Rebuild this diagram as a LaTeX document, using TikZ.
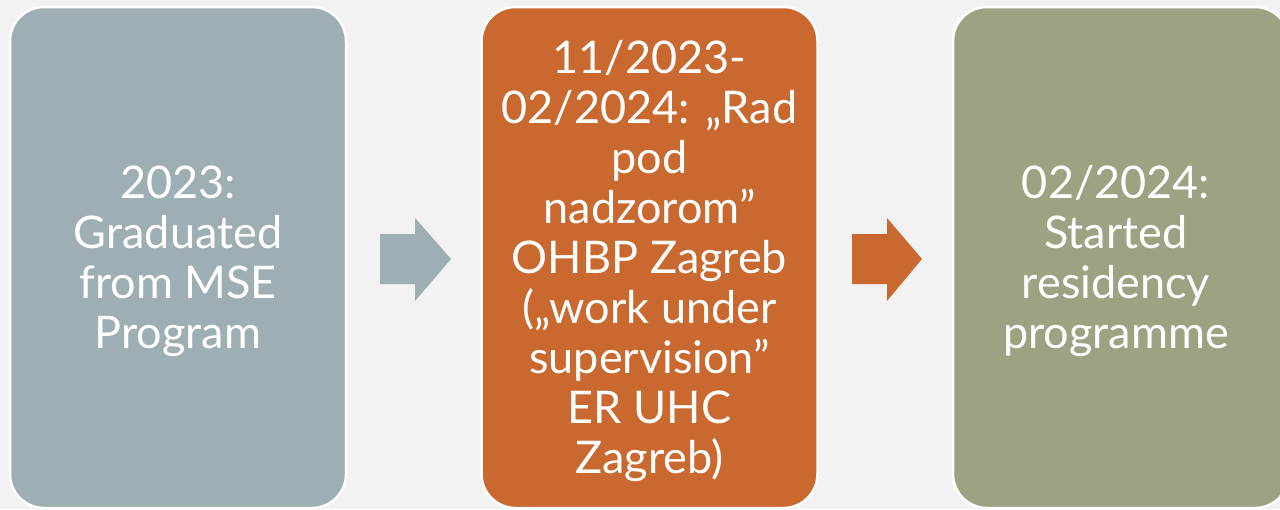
\documentclass[tikz,border=0pt]{standalone}
\usepackage{fontspec}
\setmainfont{Lato}
\definecolor{bg}{HTML}{F2F2F2}
\definecolor{blue1}{HTML}{9DAFB3}
\definecolor{orange1}{HTML}{C9692F}
\definecolor{green1}{HTML}{9CA383}
\tikzset{
  box/.style={draw=white, line width=2.5pt, rounded corners=34pt, minimum width=336pt, minimum height=501pt,
    inner sep=0pt},
  label/.style={text=white, align=center, font=\fontsize{45}{50}\selectfont},
}
\begin{document}
\begin{tikzpicture}[x=1pt,y=-1pt]
\fill[bg] (0,0) rectangle (1280,509);
\useasboundingbox (0,0) rectangle (1280,509);
\node[box, fill=blue1] (a) at (178,257.5) {};
\node[box, fill=orange1] (b) at (649.5,257.5) {};
\node[box, fill=green1] (c) at (1121,257.5) {};
\node[label] (ta) at (178,261) {2023:\\Graduated\\from MSE\\Program};
\node[label] (tb) at (649.5,261) {11/2023-\\02/2024: „Rad\\pod\\nadzorom”\\OHBP Zagreb\\(„work under\\supervision”\\ER UHC\\Zagreb)};
\node[label] (tc) at (1116,261) {02/2024:\\Started\\residency\\programme};
\fill[blue1] (380,234) -- (415,234) -- (415,218) -- (451,259) -- (415,301) -- (415,284) -- (380,284) -- cycle;
\fill[orange1] (852,234) -- (887,234) -- (887,218) -- (922,259) -- (887,301) -- (887,284) -- (852,284) -- cycle;
\end{tikzpicture}
\end{document}
